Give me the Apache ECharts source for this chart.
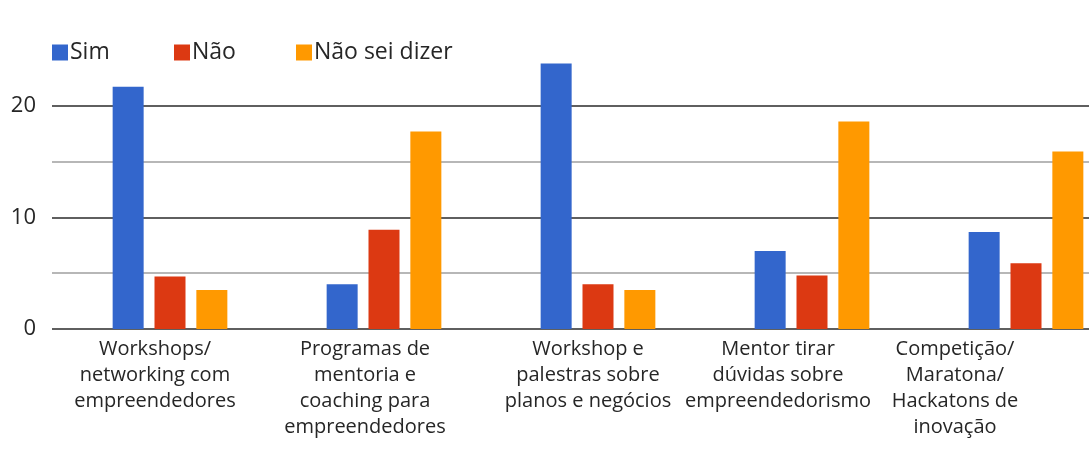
<!DOCTYPE html>
<html>

<head>
    <meta charset="utf-8">
    <title>Formatos de apoio</title>
    <script src="https://cdn.jsdelivr.net/npm/echarts@6/dist/echarts.min.js"></script>
    <style>
        body { margin: 0; background: #ffffff; }
        #chart { width: 1089px; height: 451px; }
    </style>
</head>

<body>
    <div id="chart"></div>

    <script type="text/javascript">
        // categories and values
        var categories = [
            'Workshops/\nnetworking com\nempreendedores',
            'Programas de\nmentoria e\ncoaching para\nempreendedores',
            'Workshop e\npalestras sobre\nplanos e negócios',
            'Mentor tirar\ndúvidas sobre\nempreendedorismo',
            'Competição/\nMaratona/\nHackatons de\ninovação'
        ];
        // shift of each label to the left, px
        var labelShift = [15, 19, 10, 34, 71];

        var seriesNames = ['Sim', 'Não', 'Não sei dizer'];
        var simValues = [21.7, 4.0, 23.8, 7.0, 8.7];
        var naoValues = [4.7, 8.9, 4.0, 4.8, 5.9];
        var naoSeiValues = [3.5, 17.7, 3.5, 18.6, 15.9];

        var yTickLabels = ['0', '10', '20'];

        var textColor = '#262626';
        var fontName = '"Open Sans", "Noto Sans", sans-serif';

        var myChart = echarts.init(document.getElementById('chart'), null, { renderer: 'canvas' });

        var xData = categories.map(function (c, i) {
            return { value: c, textStyle: { padding: [0, labelShift[i] * 2, 0, 0] } };
        });

        function makeSeries(name, values, color) {
            return {
                name: name,
                type: 'bar',
                xAxisIndex: 1,
                yAxisIndex: 1,
                data: values,
                barWidth: 31,
                barGap: '35%',
                itemStyle: { color: color },
                animation: false
            };
        }

        // one legend per entry so they sit at even steps like the original
        var legends = seriesNames.map(function (name, i) {
            return {
                left: 47 + i * 122,
                top: 36,
                itemWidth: 16,
                itemHeight: 16,
                icon: 'rect',
                textStyle: { fontSize: 23, color: textColor, fontFamily: fontName, padding: [0, 0, 0, -3] },
                data: [name]
            };
        });

        var option = {
            animation: false,
            textStyle: { fontFamily: fontName },
            legend: legends,
            grid: [
                { left: 52, right: 0, top: 50, bottom: 122, outerBoundsMode: 'none' },
                { left: 63, right: -44, top: 50, bottom: 122, outerBoundsMode: 'none' }
            ],
            xAxis: [
                { type: 'category', gridIndex: 0, data: categories, show: false },
                {
                    type: 'category', gridIndex: 1, data: xData,
                    axisLine: { show: false },
                    axisTick: { show: false },
                    axisLabel: {
                        interval: 0,
                        margin: 7,
                        fontSize: 20,
                        lineHeight: 26,
                        color: textColor,
                        fontFamily: fontName
                    }
                }
            ],
            yAxis: [
                {
                    type: 'value', gridIndex: 0, min: 0, max: 25, interval: 5,
                    axisLine: { show: false },
                    axisTick: { show: false },
                    axisLabel: {
                        margin: 16,
                        fontSize: 22,
                        color: textColor,
                        fontFamily: fontName,
                        formatter: function (v) {
                            return yTickLabels.indexOf(String(v)) >= 0 ? String(v) : '';
                        }
                    },
                    splitLine: {
                        lineStyle: {
                            width: 2,
                            color: ['#5f5f5f', '#b7b7b7', '#5f5f5f', '#b7b7b7', '#5f5f5f', 'rgba(0,0,0,0)']
                        }
                    }
                },
                { type: 'value', gridIndex: 1, min: 0, max: 25, interval: 5, show: false, splitLine: { show: false } }
            ],
            series: [
                makeSeries(seriesNames[0], simValues, '#3366cc'),
                makeSeries(seriesNames[1], naoValues, '#dc3912'),
                makeSeries(seriesNames[2], naoSeiValues, '#ff9900')
            ]
        };

        myChart.setOption(option);
    </script>
</body>

</html>
